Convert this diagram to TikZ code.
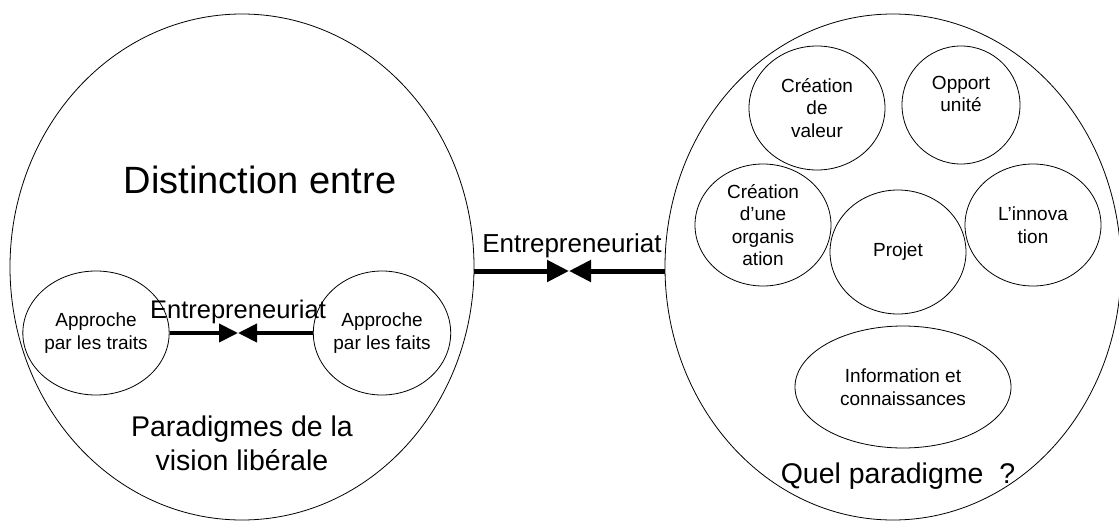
\documentclass[tikz,border=0pt]{standalone}
\usepackage{fontspec}
\setmainfont{Liberation Sans}
\usetikzlibrary{arrows.meta, shapes.geometric}

\begin{document}
\begin{tikzpicture}[
        x=1pt, y=-1pt,
        bigcircle/.style={ellipse, draw, line width=0.8pt, inner sep=0pt},
        smallcircle/.style={ellipse, draw, line width=0.8pt, inner sep=0pt, align=center, font=\fontsize{19}{22.5}\selectfont},
        link/.style={line width=5pt, -{Triangle[length=22pt, width=21pt]}},
        sublink/.style={line width=4pt, -{Triangle[length=19pt, width=18pt]}},
        linklabel/.style={anchor=base, inner sep=0pt, font=\fontsize{26}{31}\selectfont},
        caption/.style={align=center, inner sep=0pt, font=\fontsize{28.5}{34}\selectfont}
    ]

    \useasboundingbox (0,0) rectangle (1119,522);

    % cercle de gauche
    \node[bigcircle, minimum width=464pt, minimum height=506pt] (liberal) at (242,267) {};
    \node[inner sep=0pt, font=\fontsize{38}{45}\selectfont] (distinction) at (260,180) {Distinction entre};
    \node[smallcircle, minimum width=114pt, minimum height=124pt, font=\fontsize{19}{23}\selectfont] (traits) at (96,333) {Approche\\par les traits};
    \node[smallcircle, minimum width=114pt, minimum height=124pt, font=\fontsize{19}{23}\selectfont] (faits) at (382,333) {Approche\\par les faits};
    \coordinate (subjoin) at (238,333);
    \draw[sublink] (traits.east) -- (subjoin);
    \draw[sublink] (faits.west) -- (subjoin);
    \node[linklabel, font=\fontsize{25.5}{30}\selectfont] (sublabel) at (238,318) {Entrepreneuriat};
    \node[caption] (paradigmes) at (242,443) {Paradigmes de la\\vision libérale};

    % cercle de droite
    \node[bigcircle, minimum width=456pt, minimum height=506pt] (quel) at (893,267) {};
    \node[smallcircle, minimum width=136pt, minimum height=124pt] (valeur) at (817,108) {Création\\de\\valeur};
    \node[smallcircle, minimum width=118pt, minimum height=118pt] (opport) at (961,105) {Opport\\unité\\\mbox{}};
    \node[smallcircle, minimum width=136pt, minimum height=122pt] (organisation) at (763,225) {Création\\d’une\\organis\\ation};
    \node[smallcircle, minimum width=136pt, minimum height=124pt] (projet) at (898,252) {Projet};
    \node[smallcircle, minimum width=136pt, minimum height=122pt] (innovation) at (1033,225) {L’innova\\tion};
    \node[smallcircle, minimum width=216pt, minimum height=122pt] (information) at (903,387) {Information et\\connaissances};
    \node[caption, anchor=base] (question) at (898,483) {Quel paradigme\ \ ?};

    % lien entre les deux cercles
    \coordinate (join) at (569,271);
    \draw[link] (liberal.east |- join) -- (join);
    \draw[link] (quel.west |- join) -- (join);
    \node[linklabel] (label) at (572,252) {Entrepreneuriat};

\end{tikzpicture}
\end{document}
